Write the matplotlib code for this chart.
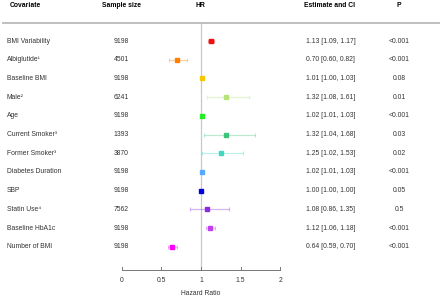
import matplotlib
matplotlib.use("Agg")
import matplotlib.pyplot as plt

covariates = ["BMI Variability", "Albiglutide\u00b9", "Baseline BMI", "Male\u00b2", "Age",
              "Current Smoker\u00b3", "Former Smoker\u00b3", "Diabetes Duration", "SBP",
              "Statin Use\u2074", "Baseline HbA1c", "Number of BMI"]
sample_size = [9198, 4501, 9198, 6241, 9198, 1393, 3870, 9198, 9198, 7562, 9198, 9198]
hr = [1.13, 0.70, 1.01, 1.32, 1.02, 1.32, 1.25, 1.02, 1.00, 1.08, 1.12, 0.64]
ci_low = [1.09, 0.60, 1.00, 1.08, 1.01, 1.04, 1.02, 1.01, 1.00, 0.86, 1.06, 0.59]
ci_high = [1.17, 0.82, 1.03, 1.61, 1.03, 1.68, 1.53, 1.03, 1.00, 1.35, 1.18, 0.70]
p_values = ["<0.001", "<0.001", "0.08", "0.01", "<0.001", "0.03", "0.02", "<0.001",
            "0.05", "0.5", "<0.001", "<0.001"]
colors = ["#EE1111", "#FF7F00", "#F7C800", "#B5E37A", "#22EE22", "#3CC47A",
          "#40D8C0", "#55AAFF", "#0000DD", "#8A2BE2", "#C040F0", "#FF00FF"]
headers = ["Covariate", "Sample size", "HR", "Estimate and CI", "P"]
x_ticks = [0, 0.5, 1, 1.5, 2]
x_label = "Hazard Ratio"

FONT = ["Liberation Sans", "DejaVu Sans"]
plt.rcParams["font.family"] = FONT

W, H = 440, 297
fig = plt.figure(figsize=(W / 100, H / 100), dpi=100)
ax = fig.add_axes([0, 0, 1, 1])
ax.axis("off")

# pixel mapping: HR 0 -> px 121.7, 79.2 px per unit; row0 -> px 41, 18.7 px per row
x0, sx = 121.7, 79.2
y0, sy = 41.0, 18.7
ax.set_xlim(-x0 / sx, (W - x0) / sx)
ax.set_ylim((H - y0) / sy, -y0 / sy)

def px_x(p):
    return (p - x0) / sx

def px_y(p):
    return (p - y0) / sy

fs = 4.9
# headers
hy = px_y(5)
ax.text(px_x(10), hy, headers[0], ha="left", va="center", fontsize=fs, fontweight="bold")
ax.text(px_x(121), hy, headers[1], ha="center", va="center", fontsize=fs, fontweight="bold")
ax.text(1.0, hy, headers[2], ha="center", va="center", fontsize=fs, fontweight="bold")
ax.text(px_x(330), hy, headers[3], ha="center", va="center", fontsize=fs, fontweight="bold")
ax.text(px_x(398.5), hy, headers[4], ha="center", va="center", fontsize=fs, fontweight="bold")

# header separator line
ax.plot([px_x(2), px_x(440)], [px_y(23), px_y(23)], color="#b4b4b4", lw=1.2,
        solid_capstyle="butt")

# reference line at HR = 1
ax.plot([1, 1], [px_y(23), px_y(269)], color="#c8c8c8", lw=0.9, zorder=1)

txt_col = "#333333"
for i, (cov, n, h, lo, hi, p, c) in enumerate(zip(covariates, sample_size, hr, ci_low,
                                                   ci_high, p_values, colors)):
    ax.text(px_x(7), i, cov, ha="left", va="center", fontsize=fs, color=txt_col)
    ax.text(px_x(121), i, str(n), ha="center", va="center", fontsize=fs, color=txt_col)
    ax.text(px_x(330.5), i, f"{h:.2f} [{lo:.2f}, {hi:.2f}]", ha="center", va="center",
            fontsize=fs, color=txt_col)
    ax.text(px_x(399), i, p, ha="center", va="center", fontsize=fs, color=txt_col)
    ax.errorbar([h], [i], xerr=[[h - lo], [hi - h]], fmt="none", ecolor=c, alpha=0.35,
                elinewidth=0.9, capsize=1.6, capthick=0.8, zorder=2)
    ax.plot([h], [i], marker="s", ms=3.2, color=c, mec=c, ls="none", zorder=3)

# x axis
ay = px_y(269.5)
ax.plot([x_ticks[0], x_ticks[-1]], [ay, ay], color="#777777", lw=0.7, solid_capstyle="butt")
for t in x_ticks:
    ax.plot([t, t], [ay, px_y(266.5)], color="#777777", lw=0.7)
    ax.text(t, px_y(280.5), f"{t:g}", ha="center", va="center", fontsize=fs, color=txt_col)
ax.text(1.0, px_y(293.5), x_label, ha="center", va="center", fontsize=fs, color=txt_col)

fig.savefig("out.png", dpi=100)
